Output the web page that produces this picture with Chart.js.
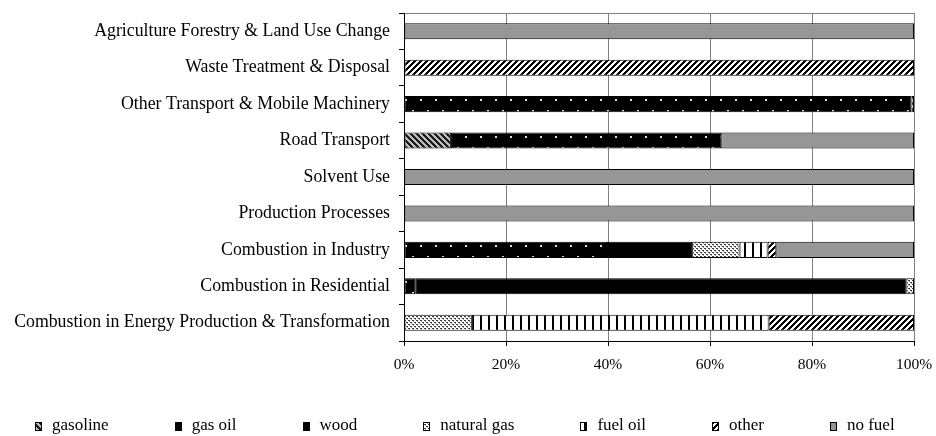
<!DOCTYPE html>
<html>
<head>
<meta charset="utf-8">
<script src="https://cdn.jsdelivr.net/npm/chart.js@4.4.1/dist/chart.umd.min.js"></script>
<style>
html,body{margin:0;padding:0;background:#fff;}
#wrap{width:936px;height:436px;position:relative;}
</style>
</head>
<body>
<div id="wrap"><canvas id="c" width="936" height="436"></canvas></div>
<script>
// ---- data (percent shares) ----
const categories = [
  'Agriculture Forestry & Land Use Change',
  'Waste Treatment & Disposal',
  'Other Transport & Mobile Machinery',
  'Road Transport',
  'Solvent Use',
  'Production Processes',
  'Combustion in Industry',
  'Combustion in Residential',
  'Combustion in Energy Production & Transformation'
];
const seriesNames = ['gasoline', 'gas oil', 'wood', 'natural gas', 'fuel oil', 'other', 'no fuel'];
const gasoline   = [0,   0,   0,    9.2,  0,   0,   0,    0,    0];
const gasOil     = [0,   0,   99.5, 53.0, 0,   0,   40.0, 2.2,  0];
const wood       = [0,   0,   0,    0,    0,   0,   16.5, 96.3, 0];
const naturalGas = [0,   0,   0,    0,    0,   0,   9.3,  1.5,  13.3];
const fuelOil    = [0,   0,   0,    0,    0,   0,   5.5,  0,    58.2];
const other      = [0,   100, 0.5,  0,    0,   0,   1.7,  0,    28.5];
const noFuel     = [100, 0,   0,    37.8, 100, 100, 27.0, 0,    0];
const xTickValues = [0, 20, 40, 60, 80, 100];

// ---- fill patterns ----
const canvas = document.getElementById('c');
const mainCtx = canvas.getContext('2d');
function tileCanvas(w, h, paint) {
  const c = document.createElement('canvas');
  c.width = w; c.height = h;
  paint(c.getContext('2d'), w, h);
  return c;
}
function diag(g, w, h, bg, fg, dir) {
  g.fillStyle = bg; g.fillRect(0, 0, w, h);
  g.fillStyle = fg;
  for (let y = 0; y < h; y++) for (let x = 0; x < w; x++) {
    const v = dir > 0 ? (x + y) % w : ((x - y) % w + w) % w;
    if (v < w / 2) g.fillRect(x, y, 1, 1);
  }
}
const tiles = {
  gasoline: tileCanvas(6, 6, (g, w, h) => diag(g, w, h, '#bdbdbd', '#1a1a1a', -1)),
  gasOil: tileCanvas(15, 22, (g, w, h) => {
    g.fillStyle = '#000'; g.fillRect(0, 0, w, h);
    g.fillStyle = '#dcdcdc'; g.fillRect(0, 0, 2, 2); g.fillRect(7, 11, 2, 2);
  }),
  naturalGas: tileCanvas(4, 4, (g, w, h) => {
    g.fillStyle = '#ffffff'; g.fillRect(0, 0, w, h);
    g.fillStyle = '#3a3a3a'; g.fillRect(0, 0, 2, 1); g.fillRect(2, 2, 2, 1);
    g.fillStyle = '#9a9a9a'; g.fillRect(1, 1, 1, 1); g.fillRect(3, 3, 1, 1);
  }),
  fuelOil: tileCanvas(8, 1, (g, w, h) => {
    g.fillStyle = '#ffffff'; g.fillRect(0, 0, w, h);
    g.fillStyle = '#000'; g.fillRect(0, 0, 2, 1);
  }),
  other: tileCanvas(6, 6, (g, w, h) => diag(g, w, h, '#ffffff', '#000000', 1))
};
const pat = t => mainCtx.createPattern(t, 'repeat');
const fills = {
  gasoline: pat(tiles.gasoline),
  gasOil: pat(tiles.gasOil),
  wood: '#000000',
  naturalGas: pat(tiles.naturalGas),
  fuelOil: pat(tiles.fuelOil),
  other: pat(tiles.other),
  noFuel: '#969696'
};
// gas oil dots: align the two dot rows to each bar
function gasOilFill(ctx) {
  const yScale = ctx.chart.scales && ctx.chart.scales.y;
  if (!yScale || ctx.dataIndex === undefined) return fills.gasOil;
  const p = pat(tiles.gasOil);
  const cy = Math.round(yScale.getPixelForValue(ctx.dataIndex));
  p.setTransform(new DOMMatrix().translate(0, cy - 5));
  return p;
}

const seriesData = [gasoline, gasOil, wood, naturalGas, fuelOil, other, noFuel];
const seriesFills = [fills.gasoline, gasOilFill, fills.wood, fills.naturalGas, fills.fuelOil, fills.other, fills.noFuel];
const swatches = [fills.gasoline, fills.gasOil, fills.wood, fills.naturalGas, fills.fuelOil, fills.other, fills.noFuel];

const FONT = "'Liberation Serif', 'Times New Roman', serif";

// legend drawn under the plot, Excel-style spacing
const bottomLegend = {
  id: 'bottomLegend',
  afterDraw(chart, args, o) {
    const ctx = chart.ctx;
    ctx.save();
    ctx.font = o.fontSize + 'px ' + FONT;
    ctx.textBaseline = 'middle';
    ctx.textAlign = 'left';
    let x = o.left;
    const y = chart.height - o.bottom;
    chart.data.datasets.forEach(ds => {
      const bx = Math.round(x), by = Math.round(y - o.boxH / 2);
      ctx.fillStyle = ds.swatch;
      ctx.fillRect(bx, by, o.boxW, o.boxH);
      ctx.strokeStyle = '#000';
      ctx.lineWidth = 1;
      ctx.strokeRect(bx + 0.5, by + 0.5, o.boxW - 1, o.boxH - 1);
      ctx.fillStyle = '#000';
      const tx = x + o.textOffset;
      ctx.fillText(ds.label, tx, y);
      x = tx + ctx.measureText(ds.label).width + o.gap;
    });
    ctx.restore();
  }
};

new Chart(canvas, {
  type: 'bar',
  data: {
    labels: categories,
    datasets: seriesNames.map((name, i) => ({
      label: name,
      data: seriesData[i],
      backgroundColor: seriesFills[i],
      swatch: swatches[i],
      borderColor: '#000',
      borderWidth: 1,
      borderSkipped: false,
      barPercentage: 0.44,
      categoryPercentage: 1.0
    }))
  },
  options: {
    indexAxis: 'y',
    responsive: false,
    animation: false,
    events: [],
    layout: { padding: { top: 13, left: 0, right: 22, bottom: 0 } },
    plugins: {
      legend: { display: false },
      tooltip: { enabled: false },
      bottomLegend: { left: 35, bottom: 10, boxW: 7, boxH: 9, textOffset: 17, gap: 66, fontSize: 17 }
    },
    scales: {
      x: {
        stacked: true,
        min: 0, max: 100,
        afterBuildTicks: s => { s.ticks = xTickValues.map(v => ({ value: v })); },
        afterFit: s => { s.height = 95; s.paddingLeft = 0; s.paddingRight = 0; },
        grid: { color: '#808080', tickColor: '#000', tickLength: 5, lineWidth: 1 },
        border: { color: '#000', width: 1 },
        ticks: {
          color: '#000', padding: 10,
          font: { family: FONT, size: 15.5 },
          callback: v => v + '%',
          maxRotation: 0
        }
      },
      y: {
        stacked: true,
        afterFit: s => { s.width = 404; s.paddingTop = 0; s.paddingBottom = 0; },
        grid: {
          offset: true,
          drawOnChartArea: true,
          color: c => (c.index === 0 ? '#808080' : 'rgba(0,0,0,0)'),
          tickColor: '#000',
          tickLength: 5
        },
        border: { color: '#000', width: 1 },
        ticks: {
          color: '#000', padding: 9, autoSkip: false,
          font: { family: FONT, size: 17.8 }
        }
      }
    }
  },
  plugins: [bottomLegend]
});
</script>
</body>
</html>
